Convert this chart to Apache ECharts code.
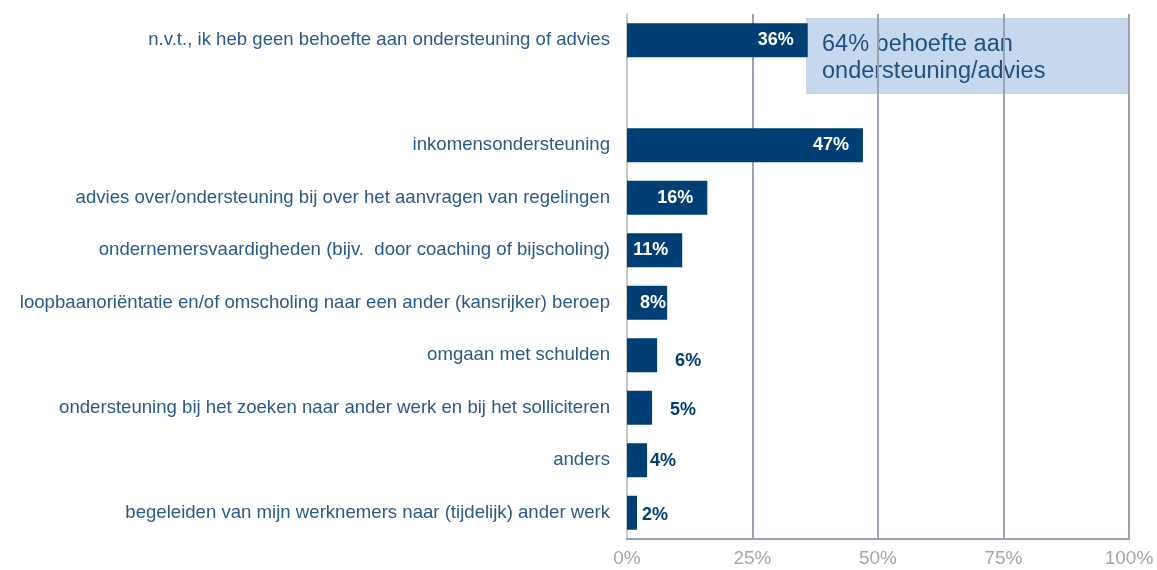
<!DOCTYPE html>
<html>
<head>
<meta charset="utf-8">
<script src="https://cdn.jsdelivr.net/npm/echarts@6/dist/echarts.min.js"></script>
<style>
  html, body { margin: 0; padding: 0; background: #fff; }
  #main { width: 1157px; height: 570px; }
</style>
</head>
<body>
<div id="main"></div>
<script>
// categorieën van boven naar onder (lege regel = witruimte na n.v.t.)
var categories = [
  'n.v.t., ik heb geen behoefte aan ondersteuning of advies',
  '',
  'inkomensondersteuning',
  'advies over/ondersteuning bij over het aanvragen van regelingen',
  'ondernemersvaardigheden (bijv.  door coaching of bijscholing)',
  'loopbaanoriëntatie en/of omscholing naar een ander (kansrijker) beroep',
  'omgaan met schulden',
  'ondersteuning bij het zoeken naar ander werk en bij het solliciteren',
  'anders',
  'begeleiden van mijn werknemers naar (tijdelijk) ander werk'
];
var values = [36, null, 47, 16, 11, 8, 6, 5, 4, 2];
var xTicks = [0, 25, 50, 75, 100];
var noteText = '64% behoefte aan\nondersteuning/advies';

var barColor = '#003f73';
var textColor = '#2a5a8c';

var chart = echarts.init(document.getElementById('main'));

// labelplaatsing per balk, zoals in het origineel
var labelTweaks = {
  8: { position: 'insideLeft', distance: 13 },
  6: { position: 'right', distance: 18, offset: [0, 6], color: barColor },
  5: { position: 'right', distance: 18, offset: [0, 2], color: barColor },
  4: { position: 'right', distance: 3, offset: [0, 1], color: barColor },
  2: { position: 'right', distance: 5, offset: [0, 2], color: barColor }
};

var seriesData = values.map(function (v) {
  if (v === null) return '-';
  var item = { value: v };
  if (labelTweaks[v]) item.label = labelTweaks[v];
  return item;
});

var option = {
  animation: false,
  grid: { left: 627, right: 28, top: 14, bottom: 31, containLabel: false },
  xAxis: {
    type: 'value',
    min: 0,
    max: 100,
    interval: 25,
    axisLine: { show: true, lineStyle: { color: '#98a2b3', width: 2 } },
    axisTick: { show: false },
    splitLine: { show: true, lineStyle: { color: '#98a2b3', width: 2 } },
    axisLabel: {
      color: '#a6a6a6',
      fontFamily: 'Liberation Sans, Arial',
      fontSize: 19,
      margin: 10,
      formatter: function (v) { return xTicks.indexOf(v) >= 0 ? v + '%' : ''; }
    }
  },
  yAxis: {
    type: 'category',
    inverse: true,
    data: categories,
    axisLine: { show: true, lineStyle: { color: '#c8c8c8', width: 2 } },
    axisTick: { show: false },
    axisLabel: {
      color: textColor,
      fontFamily: 'Liberation Sans, Arial',
      fontSize: 18.6,
      margin: 17
    }
  },
  series: [{
    type: 'bar',
    data: seriesData,
    barWidth: 34,
    itemStyle: { color: barColor },
    label: {
      show: true,
      position: 'insideRight',
      distance: 14,
      color: '#ffffff',
      fontFamily: 'Liberation Sans, Arial',
      fontWeight: 'bold',
      fontSize: 18,
      formatter: '{c}%'
    }
  }],
  graphic: [{
    type: 'group',
    left: 806,
    top: 18,
    children: [{
      type: 'rect',
      shape: { x: 0, y: 0, width: 323, height: 76 },
      style: { fill: '#c6d8ee' }
    }, {
      type: 'text',
      left: 16,
      top: 13,
      style: {
        text: noteText,
        fill: '#1f4e82',
        font: '23.5px "Liberation Sans", Arial',
        lineHeight: 27
      }
    }]
  }]
};

chart.setOption(option);
</script>
</body>
</html>
